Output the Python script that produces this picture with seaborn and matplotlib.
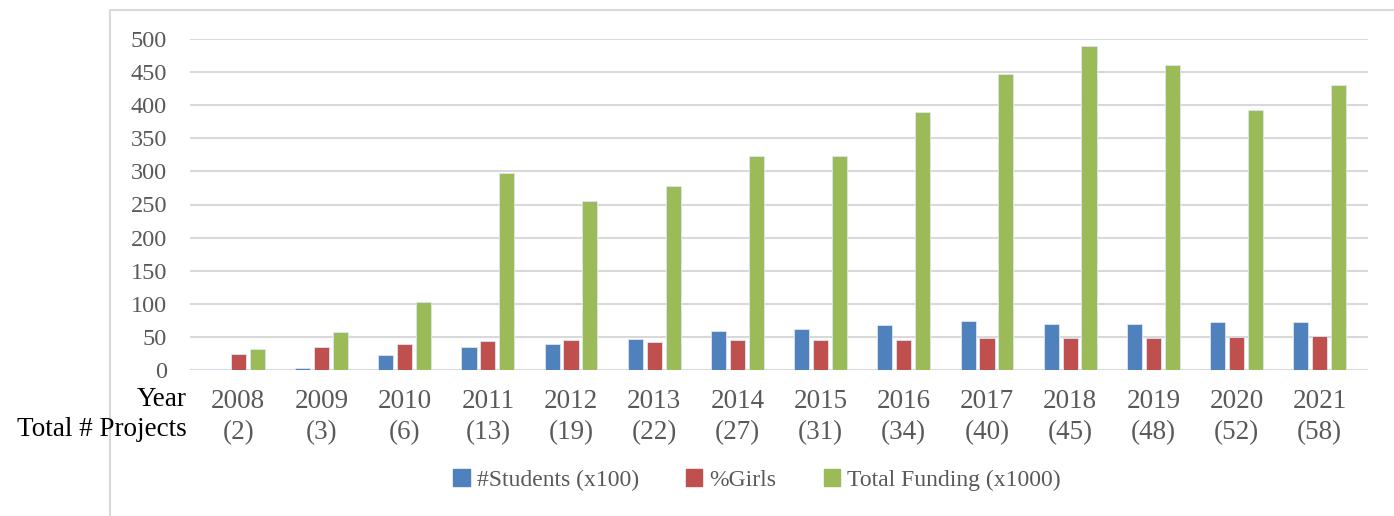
import pandas as pd
import seaborn as sns
import matplotlib.pyplot as plt
from matplotlib.patches import Rectangle

# data
years = ['2008', '2009', '2010', '2011', '2012', '2013', '2014',
         '2015', '2016', '2017', '2018', '2019', '2020', '2021']
projects = [2, 3, 6, 13, 19, 22, 27, 31, 34, 40, 45, 48, 52, 58]
students = [2, 3, 23, 35, 40, 47, 59, 62, 68, 74, 70, 70, 72, 72]
girls = [24, 34, 39, 44, 45, 42, 46, 46, 46, 48, 49, 49, 50, 51]
funding = [32, 58, 102, 298, 255, 278, 323, 323, 389, 447, 489, 460, 392, 430]

series_names = ['#Students (x100)', '%Girls', 'Total Funding (x1000)']
colors = ['#4F81BD', '#C0504D', '#9BBB59']

df = pd.DataFrame({'Year': years,
                   series_names[0]: students,
                   series_names[1]: girls,
                   series_names[2]: funding})
dfm = df.melt('Year', var_name='Series', value_name='Value')

sns.set_theme(style='white')
plt.rcParams['font.family'] = ['Liberation Serif', 'DejaVu Serif']

W, H = 1394, 516
fig = plt.figure(figsize=(W / 100, H / 100), dpi=100)
ax = fig.add_axes([190 / W, 1 - 370 / H, (1368 - 190) / W, (370 - 39) / H])

sns.barplot(data=dfm, x='Year', y='Value', hue='Series', palette=colors,
            saturation=1, width=0.68, gap=0.2, edgecolor='#dce6f2',
            linewidth=0.6, ax=ax, legend=False, zorder=3)

ax.set_ylim(0, 500)
ax.set_xlim(-0.58, 13.58)
ax.set_yticks(range(0, 501, 50))
ax.grid(axis='y', color='#d9d9d9', linewidth=1.5, zorder=0)
ax.axhline(0, color='#d9d9d9', linewidth=2, zorder=1)
for s in ax.spines.values():
    s.set_visible(False)

ax.set_xlabel('')
ax.set_ylabel('')
ax.set_xticks(range(len(years)))
ax.set_xticklabels([f'{y}\n({p})' for y, p in zip(years, projects)],
                   linespacing=1.3)
ax.tick_params(axis='x', length=0, pad=14, labelsize=19.5, labelcolor='#595959')
ax.tick_params(axis='y', length=0, pad=16.5, labelsize=17.5, labelcolor='#595959')

fig.text(187 / W, 1 - 400 / H, 'Year', ha='right', va='center',
         fontsize=19.5, color='black')
fig.text(187 / W, 1 - 430 / H, 'Total # Projects', ha='right', va='center',
         fontsize=19.5, color='black')

# outer chart frame (cropped)
fig.patches.append(Rectangle((110 / W, -0.2), 1.2, 1.2 - 10 / H,
                             transform=fig.transFigure, fill=False,
                             edgecolor='#d9d9d9', linewidth=1.5))

handles = [Rectangle((0, 0), 1, 1, color=c) for c in colors]
leg = fig.legend(handles, series_names, loc='center', ncol=3,
                 bbox_to_anchor=(757 / W, 1 - 480 / H), frameon=False,
                 fontsize=17, handlelength=0.7, handleheight=0.7,
                 handletextpad=0.3, columnspacing=2.0)
for t in leg.get_texts():
    t.set_color('#595959')

plt.savefig('out.png', dpi=100)
plt.close()
